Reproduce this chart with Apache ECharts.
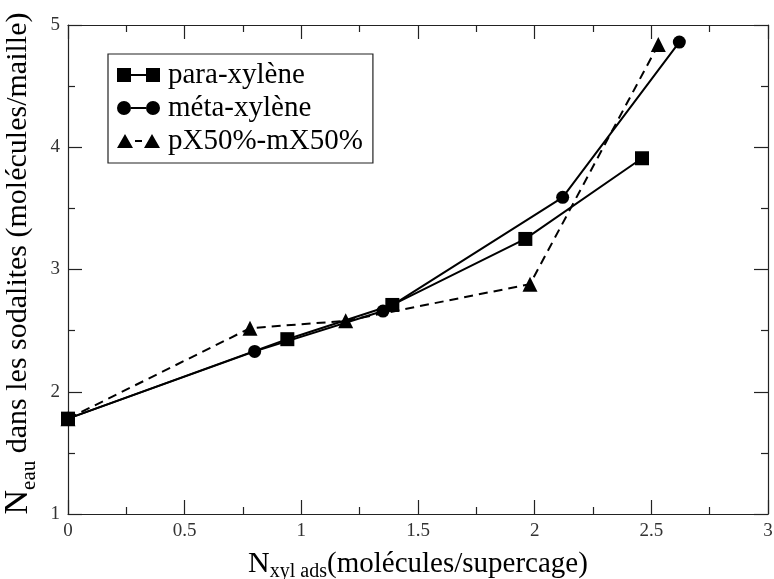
<!DOCTYPE html>
<html>
<head>
    <meta charset="utf-8">
    <title>Neau sodalites</title>
    <script src="https://cdn.jsdelivr.net/npm/echarts@6/dist/echarts.min.js"></script>
    <style>
        html, body { margin: 0; padding: 0; background: #fff; }
    </style>
</head>
<body>
<div id="chart" style="width: 774px;height:579px;"></div>

<script>
    // données
    var seriesNames = ['para-xylène', 'méta-xylène', 'pX50%-mX50%'];
    var paraX = [0, 0.94, 1.39, 1.96, 2.46];
    var paraY = [1.78, 2.43, 2.71, 3.25, 3.91];
    var metaX = [0, 0.80, 1.35, 2.12, 2.62];
    var metaY = [1.78, 2.33, 2.66, 3.59, 4.86];
    var mixX = [0, 0.78, 1.19, 1.98, 2.53];
    var mixY = [1.78, 2.52, 2.58, 2.88, 4.84];

    var xTicks = [0, 0.5, 1, 1.5, 2, 2.5, 3];
    var yTicks = [1, 2, 3, 4, 5];

    function pairs(xs, ys) {
        var out = [];
        for (var i = 0; i < xs.length; i++) out.push([xs[i], ys[i]]);
        return out;
    }

    // icônes de légende : symbole - trait - symbole
    var iconSquare = 'path://M0,0H14V14H0Z M14,6H29V8H14Z M29,0H43V14H29Z';
    var iconCircle = 'path://M0,7A7,7,0,1,1,14,7A7,7,0,1,1,0,7Z M14,6H29V8H14Z M29,7A7,7,0,1,1,43,7A7,7,0,1,1,29,7Z';
    var iconTri = 'path://M0,14L8,0L16,14Z M18,6H25V8H18Z M27,14L35,0L43,14Z';

    var serif = '"Liberation Serif", "DejaVu Serif", serif';

    function axisBase(pos, showLabels) {
        return {
            position: pos,
            axisLine: { show: true, onZero: false, lineStyle: { color: '#222', width: 1.2 } },
            axisTick: { show: true, inside: true, length: 14, lineStyle: { color: '#222', width: 1.2 } },
            minorTick: { show: true, splitNumber: 2, length: 7, lineStyle: { color: '#222', width: 1.2 } },
            splitLine: { show: false },
            axisLabel: {
                show: showLabels,
                fontFamily: serif,
                fontSize: 19,
                color: '#333',
                margin: 8
            }
        };
    }

    var xBottom = axisBase('bottom', true);
    xBottom.type = 'value';
    xBottom.min = xTicks[0];
    xBottom.max = xTicks[xTicks.length - 1];
    xBottom.interval = 0.5;
    xBottom.name = '{n|N}{sub|xyl ads}{t|(molécules/supercage)}';
    xBottom.nameLocation = 'middle';
    xBottom.nameGap = 13;
    xBottom.nameTextStyle = {
        fontFamily: serif, color: '#000',
        rich: {
            n: { fontFamily: serif, fontSize: 30, color: '#000', lineHeight: 34 },
            sub: { fontFamily: serif, fontSize: 20, color: '#000', padding: [16, 0, 0, 0], lineHeight: 34 },
            t: { fontFamily: serif, fontSize: 29, color: '#000', lineHeight: 34 }
        }
    };

    var xTop = axisBase('top', false);
    xTop.type = 'value';
    xTop.min = xTicks[0];
    xTop.max = xTicks[xTicks.length - 1];
    xTop.interval = 0.5;

    var yLeft = axisBase('left', true);
    yLeft.type = 'value';
    yLeft.min = yTicks[0];
    yLeft.max = yTicks[yTicks.length - 1];
    yLeft.interval = 1;
    yLeft.name = '{n|N}{sub|eau}{t| dans les sodalites (molécules/maille)}';
    yLeft.nameLocation = 'middle';
    yLeft.nameGap = 29;
    yLeft.nameTextStyle = {
        fontFamily: serif, color: '#000',
        padding: [0, 0, 0, 12],
        rich: {
            n: { fontFamily: serif, fontSize: 34, color: '#000', lineHeight: 36 },
            sub: { fontFamily: serif, fontSize: 21, color: '#000', padding: [22, 0, 0, 0], lineHeight: 36 },
            t: { fontFamily: serif, fontSize: 30, color: '#000', lineHeight: 36 }
        }
    };

    var yRight = axisBase('right', false);
    yRight.type = 'value';
    yRight.min = yTicks[0];
    yRight.max = yTicks[yTicks.length - 1];
    yRight.interval = 1;

    function lineSeries(name, data, symbol, size, dashed) {
        return {
            name: name,
            type: 'line',
            data: data,
            symbol: symbol,
            symbolSize: size,
            showSymbol: true,
            animation: false,
            itemStyle: { color: '#000' },
            lineStyle: { color: '#000', width: 2, type: dashed ? [9, 6] : 'solid' },
            z: 3
        };
    }

    var option = {
        backgroundColor: '#fff',
        animation: false,
        grid: { left: 68, right: 6, top: 25, bottom: 65, outerBoundsMode: 'none' },
        legend: {
            orient: 'vertical',
            left: 108,
            top: 54,
            padding: [6, 10, 7, 9],
            borderColor: '#222',
            borderWidth: 1.2,
            itemWidth: 43,
            itemHeight: 14,
            itemGap: 3,
            textStyle: { fontFamily: serif, fontSize: 29, color: '#000', lineHeight: 30, padding: [0, 0, 0, 3] },
            data: [
                { name: seriesNames[0], icon: iconSquare },
                { name: seriesNames[1], icon: iconCircle },
                { name: seriesNames[2], icon: iconTri }
            ]
        },
        xAxis: [xBottom, xTop],
        yAxis: [yLeft, yRight],
        series: [
            lineSeries(seriesNames[0], pairs(paraX, paraY), 'rect', 14, false),
            lineSeries(seriesNames[1], pairs(metaX, metaY), 'circle', 13, false),
            lineSeries(seriesNames[2], pairs(mixX, mixY), 'triangle', 15, true)
        ]
    };

    echarts.init(document.getElementById('chart')).setOption(option);
</script>
</body>
</html>
